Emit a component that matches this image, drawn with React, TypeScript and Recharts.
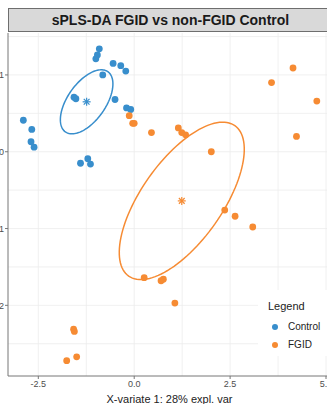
import React from 'react';
import { ScatterChart, Scatter, XAxis, YAxis, CartesianGrid, Legend } from 'recharts';

// Control group (blue)
const controlX = [-0.91, -1.0, -0.96, -0.55, -0.35, -0.22, -0.82, -1.57, -1.52, -0.5, -0.2, -0.09, -2.89, -2.67, -2.69, -2.61, -1.4, -1.21, -1.14];
const controlY = [1.34, 1.21, 1.26, 1.15, 1.12, 1.05, 1.0, 0.71, 0.69, 0.68, 0.57, 0.55, 0.41, 0.29, 0.13, 0.06, -0.15, -0.09, -0.16];
// FGID group (orange)
const fgidX = [4.14, 3.58, 4.76, -0.13, -0.04, 0.0, 0.45, 1.15, 1.24, 1.34, 4.23, 2.01, 2.36, 2.63, 3.09, 0.26, 0.7, 0.76, 1.06, -1.58, -1.56, -1.5, -1.76];
const fgidY = [1.09, 0.9, 0.66, 0.47, 0.37, 0.37, 0.25, 0.31, 0.25, 0.22, 0.2, 0.0, -0.76, -0.84, -0.98, -1.64, -1.68, -1.66, -1.97, -2.31, -2.34, -2.67, -2.72];

// centroids
const controlCentroid = [-1.24, 0.65];
const fgidCentroid = [1.24, -0.64];
// confidence ellipse semi-axis vectors (data units)
const controlEllipseA = [0.553, 0.392];
const controlEllipseB = [0.404, -0.142];
const fgidEllipseA = [1.384, 0.979];
const fgidEllipseB = [0.86, -0.303];

const xTicks = [-2.5, 0, 2.5, 5];
const yTicks = [-2, -1, 0, 1];
const xGrid = [-2.5, -1.25, 0, 1.25, 2.5, 3.75, 5];
const yGrid = [-2.5, -2, -1.5, -1, -0.5, 0, 0.5, 1, 1.5];

const BLUE = '#388ECC';
const ORANGE = '#F68B33';
const FONT = '"Liberation Sans", Arial, Helvetica, sans-serif';

const zip = (xs: number[], ys: number[]) => xs.map((x, i) => ({ x, y: ys[i] }));
const controlData = zip(controlX, controlY);
const fgidData = zip(fgidX, fgidY);

const ellipse = (c: number[], a: number[], b: number[]) => {
  const pts: { x: number; y: number }[] = [];
  const n = 120;
  for (let k = 0; k <= n; k++) {
    const t = (2 * Math.PI * k) / n;
    pts.push({ x: c[0] + a[0] * Math.cos(t) + b[0] * Math.sin(t), y: c[1] + a[1] * Math.cos(t) + b[1] * Math.sin(t) });
  }
  return pts;
};

const controlEllipse = ellipse(controlCentroid, controlEllipseA, controlEllipseB);
const fgidEllipse = ellipse(fgidCentroid, fgidEllipseA, fgidEllipseB);

const dot = (color: string) => (props: any) => <circle cx={props.cx} cy={props.cy} r={3.4} fill={color} />;
const star = (color: string) => (props: any) => {
  const { cx, cy } = props;
  const s = 4;
  const d = s * 0.72;
  return (
    <g stroke={color} strokeWidth={1.2}>
      <line x1={cx - s} y1={cy} x2={cx + s} y2={cy} />
      <line x1={cx} y1={cy - s} x2={cx} y2={cy + s} />
      <line x1={cx - d} y1={cy - d} x2={cx + d} y2={cy + d} />
      <line x1={cx - d} y1={cy + d} x2={cx + d} y2={cy - d} />
    </g>
  );
};
const none = () => <g />;

const LegendBox = (props: any) => {
  const items = (props.payload || []).filter((p: any) => p.value === 'Control' || p.value === 'FGID');
  return (
    <div style={{ position: 'relative', width: 80, height: 66, background: '#fff', fontFamily: FONT }}>
      <div style={{ position: 'absolute', left: 10, top: 9, fontSize: 11, lineHeight: '14px', color: '#222' }}>Legend</div>
      {items.map((it: any, i: number) => (
        <div key={it.value}>
          <div style={{ position: 'absolute', left: 14, top: 34 + i * 18, width: 6, height: 6, borderRadius: 3, background: it.color }} />
          <div style={{ position: 'absolute', left: 30, top: 31 + i * 18, fontSize: 10, lineHeight: '12px', color: '#222' }}>{it.value}</div>
        </div>
      ))}
    </div>
  );
};

export default function App() {
  return (
    <div style={{ position: 'fixed', left: 0, top: 0, width: 327, height: 404, overflow: 'hidden', background: '#fff' }}>
      <div
        style={{
          position: 'absolute', left: 8, top: 8, width: 330, height: 24,
          background: '#d9d9d9', border: '1px solid #6e6e6e', boxSizing: 'border-box',
          fontFamily: FONT, fontWeight: 'bold', fontSize: 14, color: '#1a1a1a',
        }}
      >
        <span style={{ position: 'absolute', left: 0, width: 323, textAlign: 'center', top: 3 }}>sPLS-DA FGID vs non-FGID Control</span>
      </div>
      <div style={{ position: 'absolute', left: 0, top: 0 }}>
        <ScatterChart width={345} height={404} margin={{ top: 33, right: 14, bottom: 0, left: 0 }}>
          <CartesianGrid stroke="#ececec" strokeWidth={0.8} verticalValues={xGrid} horizontalValues={yGrid} />
          <XAxis
            type="number" dataKey="x" domain={[-3.29, 5.13]} allowDataOverflow ticks={xTicks}
            tickFormatter={(v: number) => v.toFixed(1)} height={28} tickSize={3}
            stroke="#777" tick={{ fontSize: 9, fill: '#4d4d4d', fontFamily: FONT }}
            label={{ value: 'X-variate 1: 28% expl. var', position: 'insideBottom', offset: 1, fontSize: 11, fill: '#222', fontFamily: FONT }}
          />
          <YAxis
            type="number" dataKey="y" domain={[-2.92, 1.546]} allowDataOverflow ticks={yTicks}
            width={8} tickSize={3} tickMargin={1} stroke="#777" tick={{ fontSize: 9, fill: '#4d4d4d', fontFamily: FONT }}
          />
          <Legend layout="vertical" align="center" verticalAlign="middle" content={<LegendBox />}
            wrapperStyle={{ position: 'absolute', left: 258, top: 290, width: 80, height: 66 }} />
          <Scatter name="Control" data={controlData} fill={BLUE} shape={dot(BLUE)} isAnimationActive={false} />
          <Scatter name="FGID" data={fgidData} fill={ORANGE} shape={dot(ORANGE)} isAnimationActive={false} />
          <Scatter name="ctrlEllipse" data={controlEllipse} legendType="none" line={{ stroke: BLUE, strokeWidth: 1.5 }} shape={none} isAnimationActive={false} />
          <Scatter name="fgidEllipse" data={fgidEllipse} legendType="none" line={{ stroke: ORANGE, strokeWidth: 1.5 }} shape={none} isAnimationActive={false} />
          <Scatter name="ctrlCentroid" data={[{ x: controlCentroid[0], y: controlCentroid[1] }]} legendType="none" shape={star(BLUE)} isAnimationActive={false} />
          <Scatter name="fgidCentroid" data={[{ x: fgidCentroid[0], y: fgidCentroid[1] }]} legendType="none" shape={star(ORANGE)} isAnimationActive={false} />
        </ScatterChart>
      </div>
    </div>
  );
}
